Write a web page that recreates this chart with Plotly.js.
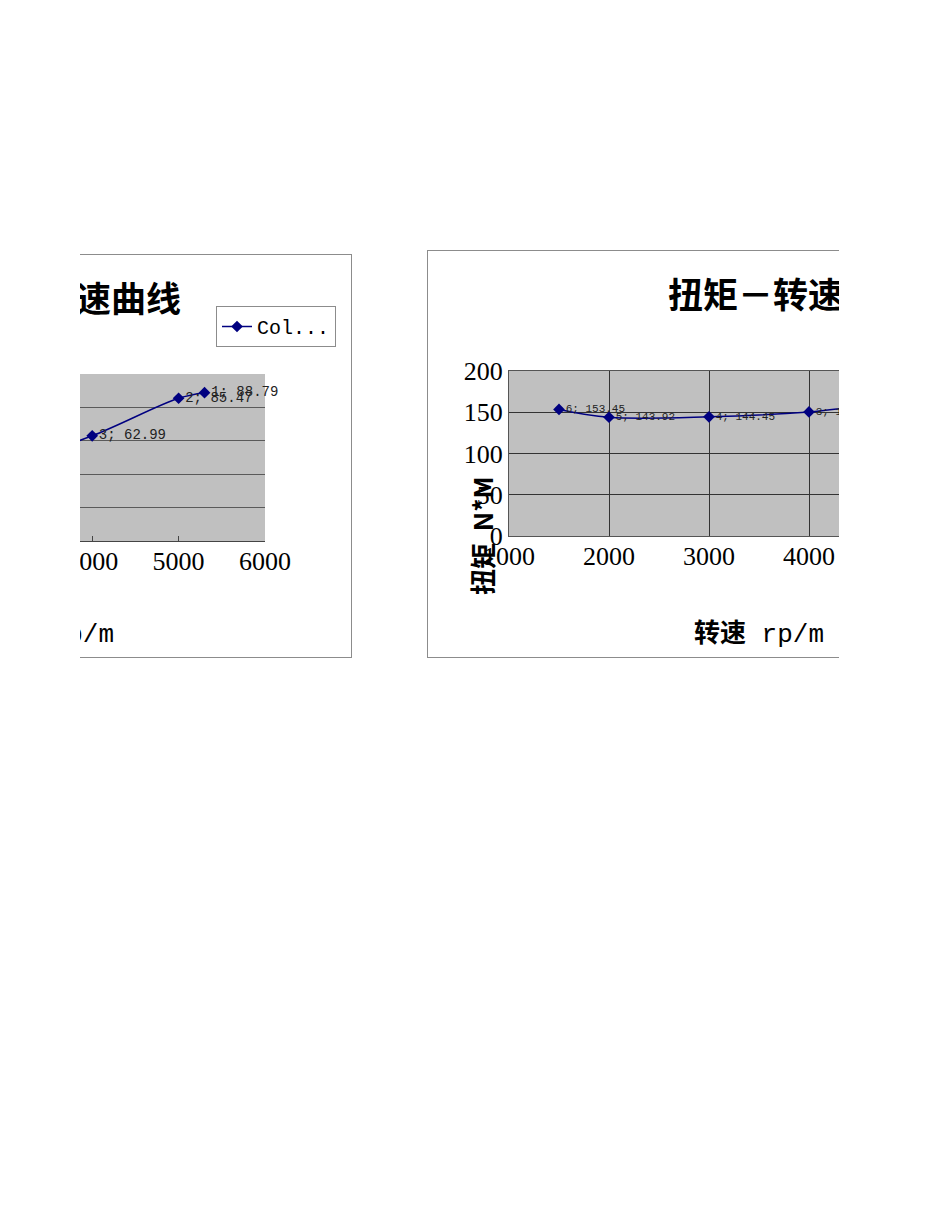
<!DOCTYPE html>
<html>
<head>
<meta charset="utf-8">
<script src="https://cdn.plot.ly/plotly-3.0.1.min.js"></script>
<style>
  body { margin: 0; background: #fff; width: 950px; height: 1230px; position: relative; overflow: hidden; }
  .clip { position: absolute; overflow: hidden; }
  .plot { position: absolute; }
  .frame { position: absolute; border: 1px solid #8c8c8c; box-sizing: border-box; pointer-events: none; }
</style>
</head>
<body>
<div class="clip" style="left:80px; top:250px; width:273px; height:412px;">
  <div id="power" class="plot" style="left:-330px; top:4px; width:602px; height:404px;"></div>
  <div class="frame" style="left:-10px; top:4px; width:282px; height:404px;"></div>
</div>
<div class="clip" style="left:420px; top:240px; width:419px; height:430px;">
  <div id="torque" class="plot" style="left:7px; top:10px; width:672px; height:408px;"></div>
  <div class="frame" style="left:7px; top:10px; width:700px; height:408px;"></div>
</div>
<script>
// speed points, numbered 1..6 from the highest rpm down
var speed = [5300, 5000, 4000, 3000, 2000, 1500];
var power = [88.79, 85.47, 62.99, 45.38, 30.14, 24.10];     // kW
var torque = [160.00, 163.25, 150.39, 144.45, 143.92, 153.45]; // N*M
var xTicks = [1000, 2000, 3000, 4000, 5000, 6000];
var seriesName = 'Col...';

var navy = '#000080';
var cjk = '"Noto Sans CJK SC", sans-serif';
var serif = '"Liberation Serif", "Noto Sans CJK SC", serif';
var mono = '"Liberation Mono", "Noto Sans CJK SC", monospace';

function labels(values) {
    return values.map((v, i) => `${i + 1}; ${v.toFixed(2)}`);
}

function trace(y, labelSize) {
    return {
        x: speed,
        y: y,
        name: seriesName,
        type: 'scatter',
        mode: 'lines+markers+text',
        text: labels(y),
        textposition: 'middle right',
        textfont: { family: mono, size: labelSize, color: '#222' },
        line: { color: navy, width: 1.5, shape: 'spline' },
        marker: { symbol: 'diamond', size: 9, color: navy },
        cliponaxis: false
    };
}

var tickFont = { family: serif, size: 26, color: '#000' };
var titleFont = { family: cjk, size: 35, color: '#000', weight: 'bold' };
var axisTitleFont = { family: mono, size: 26, color: '#000' };

// Power vs speed (left, mostly cut off)
var powerLayout = {
    width: 602, height: 404,
    margin: { l: 83, r: 87, t: 120, b: 117 },
    paper_bgcolor: '#fff',
    plot_bgcolor: '#c0c0c0',
    title: {
        text: '功率－转速曲线',
        font: titleFont,
        xref: 'container', x: (181 + 250) / 602, xanchor: 'right',
        yref: 'container', y: 1 - 46 / 404, yanchor: 'middle'
    },
    xaxis: {
        range: [1000, 6000], tickvals: xTicks,
        showgrid: false, zeroline: false,
        showline: true, linecolor: '#444', linewidth: 1,
        ticks: 'inside', ticklen: 5, tickcolor: '#444',
        ticklabelstandoff: -3,
        tickfont: tickFont
    },
    yaxis: {
        range: [0, 100], dtick: 20,
        gridcolor: '#5a5a5a', gridwidth: 1, zeroline: false,
        showline: true, linecolor: '#444',
        tickfont: tickFont
    },
    showlegend: true,
    legend: {
        x: (216 + 167) / 432, xanchor: 'left',
        y: (541 - 306) / 167, yanchor: 'top',
        bgcolor: '#fff', bordercolor: '#8c8c8c', borderwidth: 1,
        font: { family: mono, size: 20, color: '#000' }
    },
    annotations: [
        {
            text: '<b>转速</b> rp/m', showarrow: false,
            xref: 'paper', x: 0.5, yref: 'paper', y: -(634 - 541) / 167,
            xanchor: 'center', yanchor: 'middle',
            font: axisTitleFont
        },
        {
            text: '功率  kW', showarrow: false, textangle: -90,
            xref: 'paper', x: -0.065, yref: 'paper', y: 0,
            xanchor: 'center', yanchor: 'middle',
            font: { family: cjk, size: 26, color: '#000', weight: 'bold' }
        }
    ]
};

// Torque vs speed (right, cut off on the right)
var torqueLayout = {
    width: 672, height: 408,
    margin: { l: 82, r: 90, t: 121, b: 122 },
    paper_bgcolor: '#fff',
    plot_bgcolor: '#c0c0c0',
    title: {
        text: '扭矩－转速曲线',
        font: titleFont,
        xref: 'container', x: (668 - 427) / 672, xanchor: 'left',
        yref: 'container', y: 1 - 46 / 408, yanchor: 'middle'
    },
    xaxis: {
        range: [1000, 6000], tickvals: xTicks,
        gridcolor: '#333', gridwidth: 1, zeroline: false,
        showline: true, mirror: true, linecolor: '#555', linewidth: 1,
        ticklabelstandoff: -3,
        tickfont: tickFont
    },
    yaxis: {
        range: [0, 200], dtick: 50,
        gridcolor: '#333', gridwidth: 1, zeroline: false,
        showline: true, mirror: true, linecolor: '#555', linewidth: 1,
        tickfont: tickFont
    },
    showlegend: false,
    annotations: [
        {
            text: '<b>转速</b> rp/m', showarrow: false,
            xref: 'paper', x: 0.5, yref: 'paper', y: -(634 - 536) / 165,
            xanchor: 'center', yanchor: 'middle',
            font: axisTitleFont
        },
        {
            text: '扭矩  N*M', showarrow: false, textangle: -90,
            xref: 'paper', x: (481 - 509) / 500, yref: 'paper', y: 0,
            xanchor: 'center', yanchor: 'middle',
            font: { family: cjk, size: 26, color: '#000', weight: 'bold' }
        }
    ]
};

var config = { staticPlot: true, displayModeBar: false };
Plotly.newPlot('power', [trace(power, 14)], powerLayout, config);
Plotly.newPlot('torque', [trace(torque, 11)], torqueLayout, config);
</script>
</body>
</html>
